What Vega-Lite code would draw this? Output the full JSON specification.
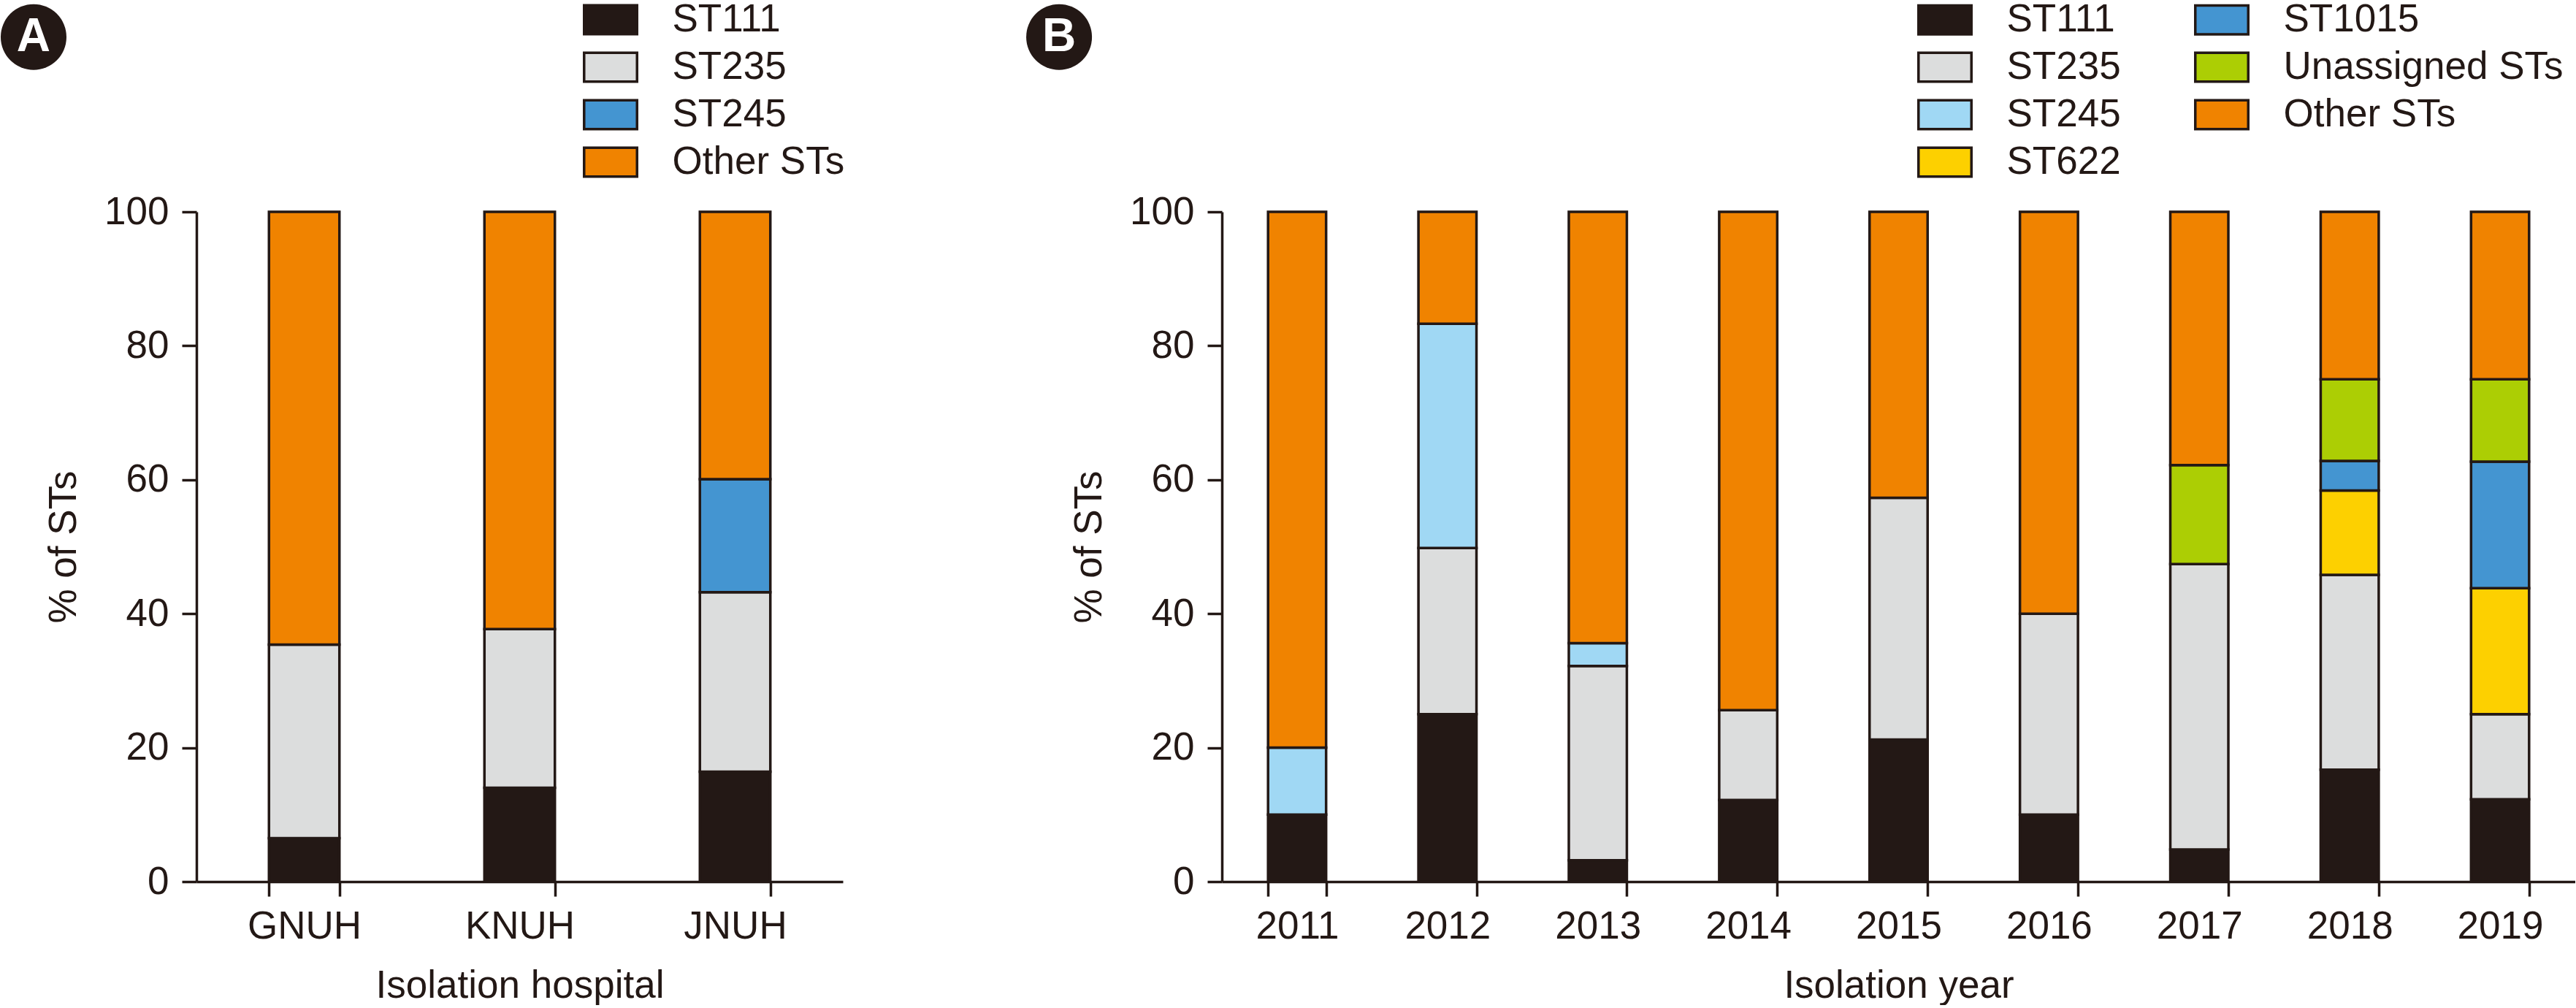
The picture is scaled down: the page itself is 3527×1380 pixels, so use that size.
{
  "$schema": "https://vega.github.io/schema/vega-lite/v6.json",
  "padding": 0,
  "background": "white",
  "datasets": {
    "hosp": [
      {"g": "GNUH", "st": "ST111", "k": 1, "pct": 6.5},
      {"g": "GNUH", "st": "ST235", "k": 2, "pct": 28.9},
      {"g": "GNUH", "st": "Other STs", "k": 7, "pct": 64.6},
      {"g": "KNUH", "st": "ST111", "k": 1, "pct": 14.0},
      {"g": "KNUH", "st": "ST235", "k": 2, "pct": 23.7},
      {"g": "KNUH", "st": "Other STs", "k": 7, "pct": 62.3},
      {"g": "JNUH", "st": "ST111", "k": 1, "pct": 16.4},
      {"g": "JNUH", "st": "ST235", "k": 2, "pct": 26.8},
      {"g": "JNUH", "st": "ST245", "k": 3, "pct": 16.9},
      {"g": "JNUH", "st": "Other STs", "k": 7, "pct": 39.9}
    ],
    "year": [
      {"y": "2011", "st": "ST111", "k": 1, "pct": 10.0},
      {"y": "2011", "st": "ST245", "k": 3, "pct": 10.0},
      {"y": "2011", "st": "Other STs", "k": 7, "pct": 80.0},
      {"y": "2012", "st": "ST111", "k": 1, "pct": 25.0},
      {"y": "2012", "st": "ST235", "k": 2, "pct": 24.8},
      {"y": "2012", "st": "ST245", "k": 3, "pct": 33.5},
      {"y": "2012", "st": "Other STs", "k": 7, "pct": 16.7},
      {"y": "2013", "st": "ST111", "k": 1, "pct": 3.2},
      {"y": "2013", "st": "ST235", "k": 2, "pct": 29.0},
      {"y": "2013", "st": "ST245", "k": 3, "pct": 3.4},
      {"y": "2013", "st": "Other STs", "k": 7, "pct": 64.4},
      {"y": "2014", "st": "ST111", "k": 1, "pct": 12.2},
      {"y": "2014", "st": "ST235", "k": 2, "pct": 13.4},
      {"y": "2014", "st": "Other STs", "k": 7, "pct": 74.4},
      {"y": "2015", "st": "ST111", "k": 1, "pct": 21.2},
      {"y": "2015", "st": "ST235", "k": 2, "pct": 36.1},
      {"y": "2015", "st": "Other STs", "k": 7, "pct": 42.7},
      {"y": "2016", "st": "ST111", "k": 1, "pct": 10.0},
      {"y": "2016", "st": "ST235", "k": 2, "pct": 30.0},
      {"y": "2016", "st": "Other STs", "k": 7, "pct": 60.0},
      {"y": "2017", "st": "ST111", "k": 1, "pct": 4.8},
      {"y": "2017", "st": "ST235", "k": 2, "pct": 42.6},
      {"y": "2017", "st": "Unassigned STs", "k": 6, "pct": 14.8},
      {"y": "2017", "st": "Other STs", "k": 7, "pct": 37.8},
      {"y": "2018", "st": "ST111", "k": 1, "pct": 16.7},
      {"y": "2018", "st": "ST235", "k": 2, "pct": 29.1},
      {"y": "2018", "st": "ST622", "k": 4, "pct": 12.6},
      {"y": "2018", "st": "ST1015", "k": 5, "pct": 4.4},
      {"y": "2018", "st": "Unassigned STs", "k": 6, "pct": 12.2},
      {"y": "2018", "st": "Other STs", "k": 7, "pct": 25.0},
      {"y": "2019", "st": "ST111", "k": 1, "pct": 12.3},
      {"y": "2019", "st": "ST235", "k": 2, "pct": 12.7},
      {"y": "2019", "st": "ST622", "k": 4, "pct": 18.8},
      {"y": "2019", "st": "ST1015", "k": 5, "pct": 18.9},
      {"y": "2019", "st": "Unassigned STs", "k": 6, "pct": 12.3},
      {"y": "2019", "st": "Other STs", "k": 7, "pct": 25.0}
    ]
  },
  "config": {
    "font": "Liberation Sans",
    "view": {"stroke": null},
    "axis": {
      "domainColor": "#231815", "domainWidth": 3.5,
      "tickColor": "#231815", "tickWidth": 3.5, "tickSize": 20,
      "labelColor": "#231815", "labelFontSize": 53, "labelFont": "Liberation Sans",
      "titleColor": "#231815", "titleFontSize": 53, "titleFont": "Liberation Sans", "titleFontWeight": "normal",
      "grid": false
    },
    "legend": {
      "labelFont": "Liberation Sans", "labelFontSize": 53, "labelColor": "#231815", "labelLimit": 0,
      "symbolType": "M-1.835,-1H1.835V1H-1.835Z", "symbolSize": 1560,
      "symbolStrokeColor": "#231815", "symbolStrokeWidth": 3.5, "symbolOpacity": 1,
      "labelOffset": 58, "rowPadding": 10, "padding": 0, "title": null
    }
  },
  "spacing": 248,
  "resolve": {"scale": {"color": "independent"}},
  "hconcat": [
    {
      "width": 885,
      "height": 917,
      "layer": [
        {
          "data": {"name": "hosp"},
          "mark": {"type": "bar", "stroke": "#231815", "strokeWidth": 3.5},
          "encoding": {
            "x": {
              "field": "g", "type": "nominal", "sort": ["GNUH", "KNUH", "JNUH"],
              "scale": {"paddingInner": 0.673, "paddingOuter": 0.3365},
              "axis": {"title": "Isolation hospital", "labelAngle": 0, "tickBand": "extent", "labelPadding": 15, "titlePadding": 28}
            },
            "y": {
              "field": "pct", "type": "quantitative", "stack": "zero",
              "scale": {"domain": [0, 100], "nice": false},
              "axis": {"title": "% of STs", "values": [0, 20, 40, 60, 80, 100], "labelPadding": 18, "titlePadding": 28}
            },
            "color": {
              "field": "st", "type": "nominal",
              "scale": {"domain": ["ST111", "ST235", "ST245", "Other STs"], "range": ["#231815", "#dcdddd", "#4495d1", "#f08300"]},
              "legend": {
                "orient": "none", "legendX": 540.5, "legendY": -289.5, "direction": "vertical",
                "values": ["ST111", "ST235", "ST245", "Other STs"],
                "encode": {"symbols": {"update": {"stroke": {"value": "#231815"}, "strokeWidth": {"value": 3.5}}}}
              }
            },
            "order": {"field": "k", "type": "quantitative"}
          }
        },
        {
          "data": {"values": [{"label": "A"}]},
          "mark": {"type": "point", "filled": true, "shape": "circle", "size": 8100, "color": "#231815", "opacity": 1},
          "encoding": {
            "x": {"datum": -0.252, "type": "quantitative", "scale": {"domain": [0, 1]}, "axis": null},
            "y": {"datum": 126.1, "type": "quantitative", "scale": {"domain": [0, 100], "nice": false}, "axis": null}
          }
        },
        {
          "data": {"values": [{"label": "A"}]},
          "mark": {"type": "text", "font": "Liberation Sans", "fontWeight": "bold", "fontSize": 64, "color": "white", "baseline": "middle", "align": "center"},
          "encoding": {
            "x": {"datum": -0.252, "type": "quantitative", "scale": {"domain": [0, 1]}, "axis": null},
            "y": {"datum": 126.1, "type": "quantitative", "scale": {"domain": [0, 100], "nice": false}, "axis": null},
            "text": {"field": "label"}
          }
        }
      ],
      "resolve": {"scale": {"x": "independent", "y": "independent"}, "axis": {"x": "independent", "y": "independent"}}
    },
    {
      "width": 1853,
      "height": 917,
      "layer": [
        {
          "data": {"name": "year"},
          "mark": {"type": "bar", "stroke": "#231815", "strokeWidth": 3.5},
          "encoding": {
            "x": {
              "field": "y", "type": "nominal",
              "scale": {"paddingInner": 0.614, "paddingOuter": 0.307},
              "axis": {"title": "Isolation year", "labelAngle": 0, "tickBand": "extent", "labelPadding": 15, "titlePadding": 28}
            },
            "y": {
              "field": "pct", "type": "quantitative", "stack": "zero",
              "scale": {"domain": [0, 100], "nice": false},
              "axis": {"title": "% of STs", "values": [0, 20, 40, 60, 80, 100], "labelPadding": 18, "titlePadding": 28}
            },
            "color": {
              "field": "st", "type": "nominal",
              "scale": {
                "domain": ["ST111", "ST235", "ST245", "ST622", "ST1015", "Unassigned STs", "Other STs"],
                "range": ["#231815", "#dcdddd", "#a0d8f4", "#fdd000", "#4495d1", "#acce04", "#f08300"]
              },
              "legend": {
                "orient": "none", "legendX": 963.5, "legendY": -289.5, "direction": "vertical", "columns": 2, "columnPadding": 94,
                "values": ["ST111", "ST235", "ST245", "ST622", "ST1015", "Unassigned STs", "Other STs"],
                "encode": {"symbols": {"update": {"stroke": {"value": "#231815"}, "strokeWidth": {"value": 3.5}}}}
              }
            },
            "order": {"field": "k", "type": "quantitative"}
          }
        },
        {
          "data": {"values": [{"label": "B"}]},
          "mark": {"type": "point", "filled": true, "shape": "circle", "size": 8100, "color": "#231815", "opacity": 1},
          "encoding": {
            "x": {"datum": -0.1203, "type": "quantitative", "scale": {"domain": [0, 1]}, "axis": null},
            "y": {"datum": 126.1, "type": "quantitative", "scale": {"domain": [0, 100], "nice": false}, "axis": null}
          }
        },
        {
          "data": {"values": [{"label": "B"}]},
          "mark": {"type": "text", "font": "Liberation Sans", "fontWeight": "bold", "fontSize": 64, "color": "white", "baseline": "middle", "align": "center"},
          "encoding": {
            "x": {"datum": -0.1203, "type": "quantitative", "scale": {"domain": [0, 1]}, "axis": null},
            "y": {"datum": 126.1, "type": "quantitative", "scale": {"domain": [0, 100], "nice": false}, "axis": null},
            "text": {"field": "label"}
          }
        }
      ],
      "resolve": {"scale": {"x": "independent", "y": "independent"}, "axis": {"x": "independent", "y": "independent"}}
    }
  ]
}
